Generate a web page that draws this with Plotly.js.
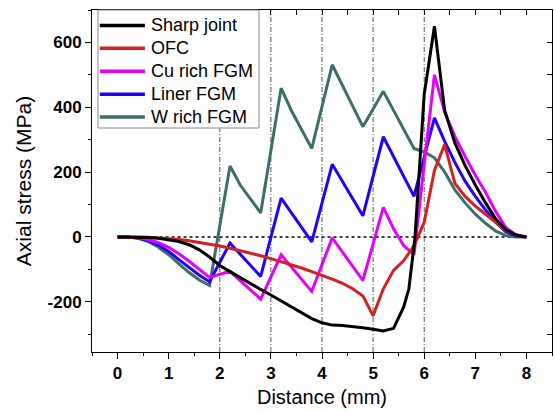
<!DOCTYPE html>
<html>
<head>
<meta charset="utf-8">
<script src="https://cdn.plot.ly/plotly-3.0.1.min.js"></script>
<style>html,body{margin:0;padding:0;background:#fff;}#chart{width:554px;height:411px;}</style>
</head>
<body>
<div id="chart"></div>
<script>
// Series names
var seriesNames = ["Sharp joint", "OFC", "Cu rich FGM", "Liner FGM", "W rich FGM"];

// Sharp joint
var sharpX = [0,0.2,0.4,0.6,0.8,1.0,1.2,1.4,1.6,1.8,2.0,2.2,2.4,2.6,2.8,3.0,3.2,3.4,3.6,3.8,4.0,4.2,4.4,4.6,4.8,5.0,5.2,5.4,5.6,5.7,5.75,5.82,6.0,6.2,6.4,6.6,6.8,7.0,7.2,7.4,7.6,7.8,8.0];
var sharpY = [0,0,-1,-2,-4,-8,-14,-24,-40,-62,-88,-107,-126,-145,-162,-179,-197,-215,-235,-252,-265,-272,-273,-276,-280,-285,-290,-282,-215,-160,-88,0,440,650,390,290,220,160,105,55,22,6,0];

// OFC
var ofcX = [0,0.2,0.4,0.6,0.8,1.0,1.2,1.4,1.6,1.8,2.0,2.2,2.4,2.6,2.8,3.0,3.2,3.4,3.6,3.8,4.0,4.2,4.4,4.6,4.8,5.0,5.2,5.4,5.6,5.8,6.0,6.2,6.4,6.6,6.8,7.0,7.2,7.4,7.6,7.8,8.0];
var ofcY = [0,0,0,-1,-3,-5,-8,-12,-17,-22,-28,-35,-42,-50,-58,-67,-76,-86,-96,-107,-118,-130,-143,-160,-182,-243,-160,-103,-73,-27,45,205,285,165,125,95,70,45,20,6,0];

// Cu rich FGM
var cuX = [0,0.2,0.4,0.6,0.8,1.0,1.2,1.4,1.6,1.8,2.2,2.8,3.2,3.8,4.2,4.8,5.2,5.4,5.6,5.8,6.0,6.2,6.4,6.6,6.8,7.0,7.2,7.4,7.6,7.8,8.0];
var cuY = [0,0,-2,-8,-18,-32,-52,-75,-100,-125,-106,-192,-55,-168,-3,-134,91,25,-27,-55,225,500,385,310,248,190,138,78,28,6,0];

// Liner FGM
var linX = [0,0.2,0.4,0.6,0.8,1.0,1.2,1.4,1.6,1.8,2.2,2.8,3.2,3.8,4.2,4.8,5.2,5.8,6.2,6.4,6.6,6.8,7.0,7.2,7.4,7.6,7.8,8.0];
var linY = [0,0,-3,-12,-25,-45,-70,-95,-118,-138,-19,-122,120,-15,224,65,309,125,367,295,230,172,125,83,45,15,3,0];

// W rich FGM
var wX = [0,0.2,0.4,0.6,0.8,1.0,1.2,1.4,1.6,1.8,2.2,2.4,2.8,3.2,3.4,3.8,4.2,4.8,5.2,5.8,6.0,6.2,6.4,6.6,6.8,7.0,7.2,7.4,7.6,7.8,8.0];
var wY = [0,0,-4,-14,-32,-55,-83,-110,-133,-150,219,160,74,459,390,273,531,340,449,273,262,244,200,145,105,70,42,18,4,0,0];

var colors = ["#000000", "#d42020", "#e400ff", "#2200ff", "#3e6e6a"];

// Tick labels / axes
var xTicks = [0,1,2,3,4,5,6,7,8];
var yTicks = [-200,0,200,400,600];
var interfaces = [2,3,4,5,6];
var zeroLineSpan = [0,8];

var FONT = 'Liberation Sans, Arial, sans-serif';
var xs = [sharpX, ofcX, cuX, linX, wX];
var ys = [sharpY, ofcY, cuY, linY, wY];

var order = [4,3,2,1,0];
var plotTraces = [];
order.forEach(function(k){
  plotTraces.push({
    x: xs[k], y: ys[k], name: seriesNames[k], type: 'scatter', mode: 'lines',
    line: {color: colors[k], width: 3}, showlegend: false
  });
});

var shapes = [];
interfaces.forEach(function(v){
  shapes.push({type:'line', xref:'x', yref:'paper', x0:v, x1:v, y0:0, y1:1,
    line:{color:'#444', width:0.9, dash:'5px,2px,1px,2px'}, layer:'below'});
});
shapes.push({type:'line', xref:'x', yref:'y', x0:zeroLineSpan[0], x1:zeroLineSpan[1], y0:0, y1:0,
  line:{color:'#000', width:1.5, dash:'dot'}, layer:'below'});

// Legend drawn in paper coordinates (layout only)
var legBox = {x0: 0.013, x1: 0.363, y0: 0.655, y1: 1.0};
var legSample = {x0: 0.017, x1: 0.115, textX: 0.124};
var legRows = [0.955, 0.888, 0.821, 0.754, 0.687];
var annotations = [];
shapes.push({type:'rect', xref:'paper', yref:'paper', x0:legBox.x0, x1:legBox.x1, y0:legBox.y0, y1:legBox.y1,
  line:{color:'#888', width:1}, fillcolor:'#fff', layer:'above'});
seriesNames.forEach(function(nm, i){
  shapes.push({type:'line', xref:'paper', yref:'paper', x0:legSample.x0, x1:legSample.x1, y0:legRows[i], y1:legRows[i],
    line:{color:colors[i], width:3.5}, layer:'above'});
  annotations.push({xref:'paper', yref:'paper', x:legSample.textX, y:legRows[i], xanchor:'left', yanchor:'middle',
    text: nm, showarrow:false, font:{family:FONT, size:18, color:'#000'}});
});

var layout = {
  width: 554, height: 411,
  margin: {l: 92, r: 2, t: 10, b: 59},
  paper_bgcolor: '#fff', plot_bgcolor: '#fff',
  showlegend: false,
  xaxis: {
    range: [-0.5, 8.5], tickvals: xTicks, ticktext: xTicks.map(String),
    ticks: 'outside', ticklen: 6, tickwidth: 1, tickcolor: '#000',
    minor: {dtick: 0.5, tick0: 0, ticks: 'outside', ticklen: 3, tickcolor: '#000'},
    showline: true, linecolor: '#000', linewidth: 1, showgrid: false, zeroline: false,
    tickfont: {family: FONT, size: 17, color: '#000', weight: 'bold'},
    title: {text: 'Distance (mm)', font: {family: FONT, size: 20, color: '#000'}, standoff: 7}
  },
  yaxis: {
    range: [-355, 700], tickvals: yTicks, ticktext: yTicks.map(String),
    ticks: 'outside', ticklen: 6, tickwidth: 1, tickcolor: '#000',
    minor: {dtick: 100, tick0: 0, ticks: 'outside', ticklen: 3, tickcolor: '#000'},
    showline: true, linecolor: '#000', linewidth: 1, showgrid: false, zeroline: false,
    tickfont: {family: FONT, size: 17, color: '#000', weight: 'bold'},
    title: {text: 'Axial stress (MPa)', font: {family: FONT, size: 21, color: '#000'}, standoff: 10}
  },
  xaxis2: {
    overlaying: 'x', side: 'top', range: [-0.5, 8.5], dtick: 0.5, tick0: 0,
    ticks: 'inside', ticklen: 5, tickcolor: '#000', showticklabels: false,
    showline: true, linecolor: '#000', showgrid: false, zeroline: false
  },
  yaxis2: {
    overlaying: 'y', side: 'right', range: [-355, 700], dtick: 100, tick0: 0,
    ticks: 'inside', ticklen: 5, tickcolor: '#000', showticklabels: false,
    showline: true, linecolor: '#000', showgrid: false, zeroline: false
  },
  shapes: shapes,
  annotations: annotations
};

plotTraces.push({x: [], y: [], xaxis: 'x2', yaxis: 'y2', showlegend: false, hoverinfo: 'skip', type: 'scatter', mode: 'lines'});

Plotly.newPlot('chart', plotTraces, layout, {displayModeBar: false, staticPlot: true});
</script>
</body>
</html>
